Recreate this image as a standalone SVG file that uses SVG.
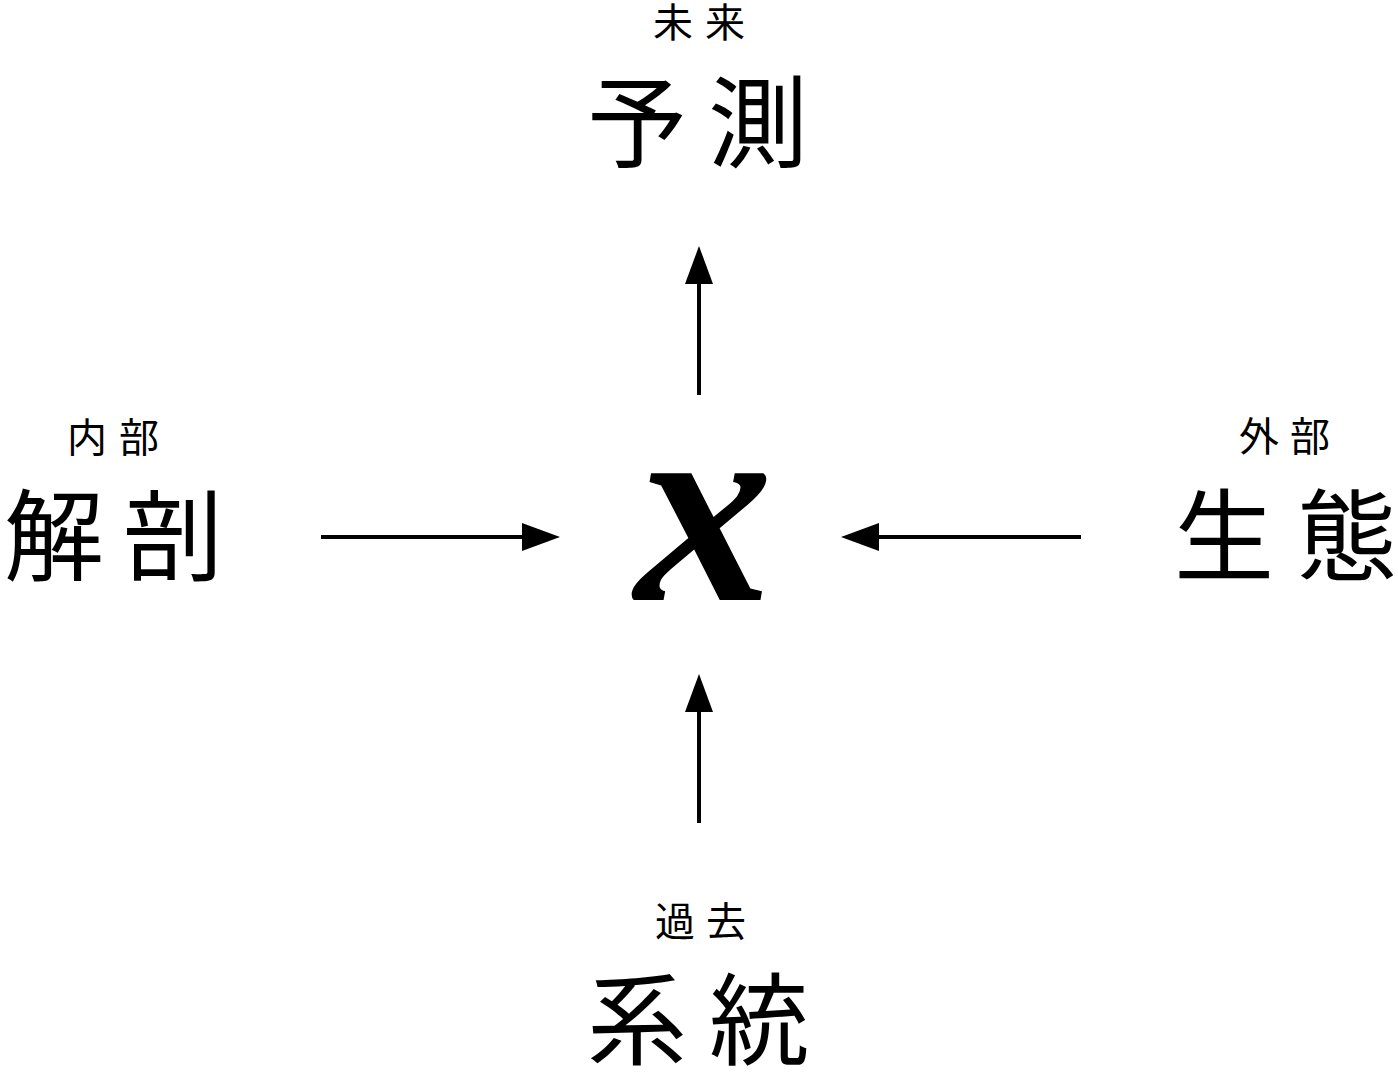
<svg xmlns="http://www.w3.org/2000/svg" width="1398" height="1078" viewBox="0 0 1398 1078">
  <style>
    .small { font-family: "Noto Sans CJK JP", sans-serif; font-size: 40px; fill: #000; text-anchor: middle; }
    .big { font-family: "Noto Sans CJK JP", sans-serif; font-size: 100px; fill: #000; text-anchor: middle; }
    .var { font-family: "Liberation Serif", serif; font-style: italic; font-weight: bold; font-size: 276px; fill: #000; text-anchor: middle; }
    .conn { stroke: #000; stroke-width: 4; fill: none; }
  </style>
  <defs>
    <marker id="arrow" markerUnits="userSpaceOnUse" markerWidth="38" markerHeight="28" refX="0" refY="14" orient="auto" viewBox="0 0 38 28">
      <path d="M0,0 L38,14 L0,28 Z" fill="#000"/>
    </marker>
  </defs>
  <rect width="1398" height="1078" fill="#fff"/>

  <g id="node-x">
    <text class="var" x="704" y="600">x</text>
  </g>

  <g id="node-future">
    <text class="small" x="673 725" y="37">未来</text>
    <text class="big" x="637 758" y="160">予測</text>
  </g>

  <g id="node-internal">
    <text class="small" x="87 139" y="452">内部</text>
    <text class="big" x="54 173" y="573">解剖</text>
  </g>

  <g id="node-external">
    <text class="small" x="1259 1310" y="451">外部</text>
    <text class="big" x="1224 1347" y="573">生態</text>
  </g>

  <g id="node-past">
    <text class="small" x="675 726" y="936">過去</text>
    <text class="big" x="637 759" y="1057">系統</text>
  </g>

  <g id="connectors">
    <line class="conn" x1="321" y1="537" x2="522" y2="537" marker-end="url(#arrow)"/>
    <line class="conn" x1="1081" y1="537" x2="879" y2="537" marker-end="url(#arrow)"/>
    <line class="conn" x1="699" y1="395" x2="699" y2="284" marker-end="url(#arrow)"/>
    <line class="conn" x1="699" y1="823" x2="699" y2="712" marker-end="url(#arrow)"/>
  </g>
</svg>
